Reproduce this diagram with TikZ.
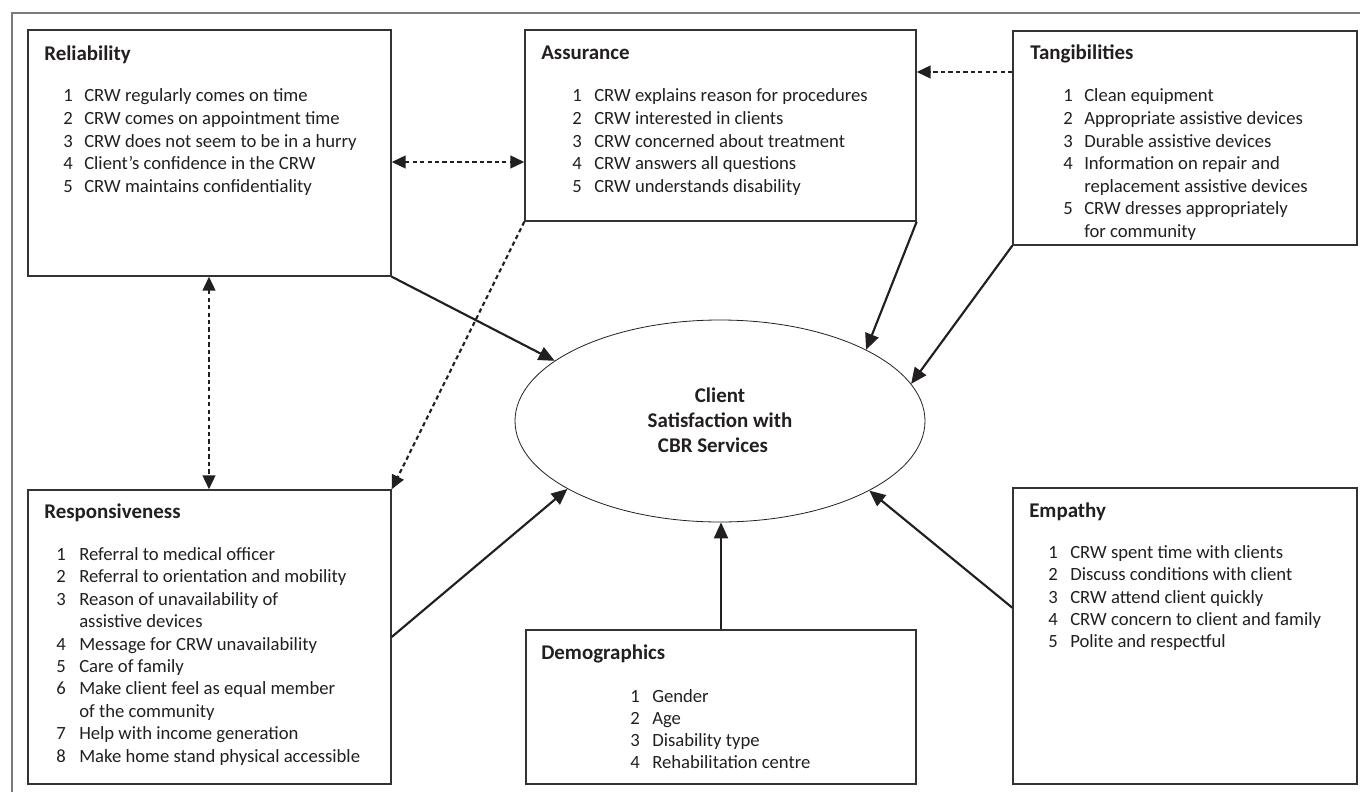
\documentclass[tikz,border=0pt]{standalone}
\usepackage{fontspec}
\setmainfont{Carlito}
\usetikzlibrary{arrows.meta,shapes.geometric,fit,calc}
\definecolor{boxc}{HTML}{333333}
\definecolor{framec}{HTML}{7A7A7A}
\definecolor{txt}{HTML}{231F20}
\begin{document}
\begin{tikzpicture}[x={(0.75pt,0)},y={(0,-0.75pt)},
  box/.style={draw=boxc,line width=1pt,inner sep=0pt,rectangle},
  ttl/.style={anchor=base west,inner sep=0pt,font=\fontsize{15.7}{18}\selectfont\bfseries,text=txt},
  itm/.style={anchor=base west,inner sep=0pt,font=\fontsize{14}{17}\selectfont,text=txt},
  ctr/.style={anchor=base,inner sep=0pt,font=\fontsize{15.7}{18}\selectfont\bfseries,text=txt},
  sarr/.style={line width=1.6pt,txt,-{Triangle[length=12pt,width=10.5pt]}},
  darr/.style={line width=1.6pt,txt,dash pattern=on 3.2pt off 2.4pt,-{Triangle[length=10.5pt,width=9.5pt]}},
  ddarr/.style={line width=1.6pt,txt,dash pattern=on 3.2pt off 2.4pt,{Triangle[length=10.5pt,width=9.5pt]}-{Triangle[length=10.5pt,width=9.5pt]}}
]
\useasboundingbox (0,0) rectangle (1360,792);
\fill[white] (0,0) rectangle (1360,792);
% outer frame (cropped)
\draw[framec,line width=1.1pt] (12,792) -- (12,13) -- (1360,13);

% boxes
\node[box,fit={(28,30)(391,276)}] (rel) {};
\node[box,fit={(525,30)(916,221)}] (asu) {};
\node[box,fit={(1013,31)(1357,245)}] (tan) {};
\node[box,fit={(28,490)(391,784)}] (res) {};
\node[box,fit={(526,630)(916,784)}] (dem) {};
\node[box,fit={(1013,488)(1357,784)}] (emp) {};
\node[draw=txt,line width=0.6pt,ellipse,inner sep=0pt,minimum width=307.5pt,minimum height=151.5pt] (sat) at (720,421) {};

% centre text
\node[ctr] (sat1) at (720,402) {Client};
\node[ctr] (sat2) at (720,427) {Satisfaction with};
\node[ctr] (sat3) at (713,452) {CBR Services};

% Reliability
\node[ttl] (relh) at (44,61) {Reliability};
\foreach \n/\t [count=\i from 0] in {1/CRW regularly comes on time,2/CRW comes on appointment time,3/CRW does not seem to be in a hurry,4/Client’s confidence in the CRW,5/CRW maintains confidentiality}{
  \node[itm] (reln\i) at (63,{102+22.5*\i}) {\n};
  \node[itm] (relt\i) at (84,{102+22.5*\i}) {\t};
}
% Assurance
\node[ttl] (asuh) at (541,60) {Assurance};
\foreach \n/\t [count=\i from 0] in {1/CRW explains reason for procedures,2/CRW interested in clients,3/CRW concerned about treatment,4/CRW answers all questions,5/CRW understands disability}{
  \node[itm] (asun\i) at (572,{102+22.5*\i}) {\n};
  \node[itm] (asut\i) at (594,{102+22.5*\i}) {\t};
}
% Tangibilities
\node[ttl] (tanh) at (1030,60) {Tangibilities};
\foreach \n/\t [count=\i from 0] in {1/Clean equipment,2/Appropriate assistive devices,3/Durable assistive devices,4/Information on repair and,/replacement assistive devices,5/CRW dresses appropriately,/for community}{
  \node[itm] (tann\i) at (1063,{102+22.5*\i}) {\n};
  \node[itm] (tant\i) at (1084,{102+22.5*\i}) {\t};
}
% Responsiveness
\node[ttl] (resh) at (44,518) {Responsiveness};
\foreach \n/\t [count=\i from 0] in {1/Referral to medical officer,2/Referral to orientation and mobility,3/Reason of unavailability of,/assistive devices,4/Message for CRW unavailability,5/Care of family,6/Make client feel as equal member,/of the community,7/Help with income generation,8/Make home stand physical accessible}{
  \node[itm] (resn\i) at (56,{560.5+22.4*\i}) {\n};
  \node[itm] (rest\i) at (79,{560.5+22.4*\i}) {\t};
}
% Demographics
\node[ttl] (demh) at (541,659) {Demographics};
\foreach \n/\t [count=\i from 0] in {1/Gender,2/Age,3/Disability type,4/Rehabilitation centre}{
  \node[itm] (demn\i) at (630,{702+22.3*\i}) {\n};
  \node[itm] (demt\i) at (652,{702+22.3*\i}) {\t};
}
% Empathy
\node[ttl] (emph) at (1029,517) {Empathy};
\foreach \n/\t [count=\i from 0] in {1/CRW spent time with clients,2/Discuss conditions with client,3/CRW attend client quickly,4/CRW concern to client and family,5/Polite and respectful}{
  \node[itm] (empn\i) at (1048,{558.3+22.35*\i}) {\n};
  \node[itm] (empt\i) at (1070,{558.3+22.35*\i}) {\t};
}

% solid arrows to the centre
\draw[sarr] (rel.south east) -- (sat.160.9);
\draw[sarr] (asu.south east) -- (sat.26.6);
\draw[sarr] (tan.south west) -- (sat.11.3);
\draw[sarr] (res.east) -- (sat.204);
\draw[sarr] ($(emp.north west)!0.405!(emp.south west)$) -- (sat.335.9);
\draw[sarr] (dem.north) -- (dem.north |- sat.south);

% dashed links
\coordinate (ra) at (458,162);
\coordinate (ta) at (960,72);
\coordinate (rr) at (209,383);
\draw[ddarr] (ra -| rel.east) -- (ra -| asu.west);
\draw[darr] (ta -| tan.west) -- (ta -| asu.east);
\draw[darr] (asu.south west) -- (res.north east);
\draw[ddarr] (rr |- rel.south) -- (rr |- res.north);
\end{tikzpicture}
\end{document}
